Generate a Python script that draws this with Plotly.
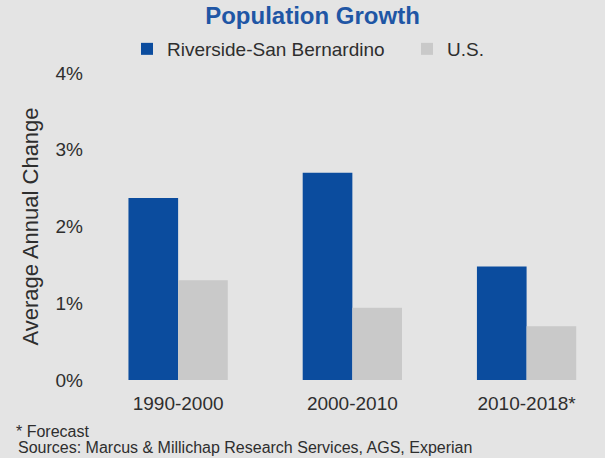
import plotly.graph_objects as go

periods = ["1990-2000", "2000-2010", "2010-2018*"]
riverside = [2.37, 2.70, 1.48]
us = [1.30, 0.94, 0.70]
y_ticks = [0, 1, 2, 3, 4]
y_tick_text = ["0%", "1%", "2%", "3%", "4%"]

BG = "#e4e4e4"
BLUE = "#0b4c9e"
GREY = "#c9c9c9"
TEXT = "#2e2e2e"
FONT = "Liberation Sans, Arial, sans-serif"

W, H = 605, 458
ML, MR, MT, MB = 91, 0, 73, 78
PW, PH = W - ML - MR, H - MT - MB


def px_to_paper(px, py):
    return (px - ML) / PW, (H - MB - py) / PH


fig = go.Figure()
fig.add_bar(x=periods, y=riverside, name="Riverside-San Bernardino",
            marker=dict(color=BLUE, line=dict(width=0)), legend="legend")
fig.add_bar(x=periods, y=us, name="U.S.",
            marker=dict(color=GREY, line=dict(width=0)), legend="legend2")

legend_common = dict(orientation="h", xref="container", xanchor="left",
                     yref="container", y=1 - 49 / H, yanchor="middle",
                     bgcolor="rgba(0,0,0,0)", font=dict(size=19, color=TEXT),
                     itemwidth=30)

fig.update_layout(
    width=W, height=H,
    paper_bgcolor=BG, plot_bgcolor=BG,
    margin=dict(l=ML, r=MR, t=MT, b=MB, autoexpand=False),
    barmode="group", bargap=0.43, bargroupgap=0,
    font=dict(family=FONT, size=19, color=TEXT),
    title=dict(text="<b>Population Growth</b>", xref="container", x=0.5165,
               xanchor="center", yref="container", y=0.965, yanchor="middle",
               font=dict(family=FONT, size=24, color="#1f56a5")),
    legend=dict(x=127 / W, **legend_common),
    legend2=dict(x=407 / W, **legend_common),
    showlegend=True,
)
fig.update_xaxes(range=[-0.5, 2.45], showgrid=False, zeroline=False,
                 showline=False, ticks="", ticklabelstandoff=10,
                 tickfont=dict(size=19, color=TEXT))
fig.update_yaxes(range=[0, 4], tickvals=y_ticks, ticktext=y_tick_text,
                 showgrid=False, zeroline=False, showline=False, ticks="",
                 ticklabelstandoff=7,
                 title=dict(text="Average Annual Change", standoff=10,
                            font=dict(size=22, color=TEXT)),
                 tickfont=dict(size=19, color=TEXT))

fx, fy = px_to_paper(14, 431)
fig.add_annotation(text="* Forecast", xref="paper", yref="paper", x=fx, y=fy,
                   xanchor="left", yanchor="middle", showarrow=False,
                   font=dict(size=16, color=TEXT))
sx, sy = px_to_paper(16, 447)
fig.add_annotation(text="Sources: Marcus & Millichap Research Services, AGS, Experian",
                   xref="paper", yref="paper", x=sx, y=sy,
                   xanchor="left", yanchor="middle", showarrow=False,
                   font=dict(size=16, color=TEXT))

fig.write_html("out.html")
